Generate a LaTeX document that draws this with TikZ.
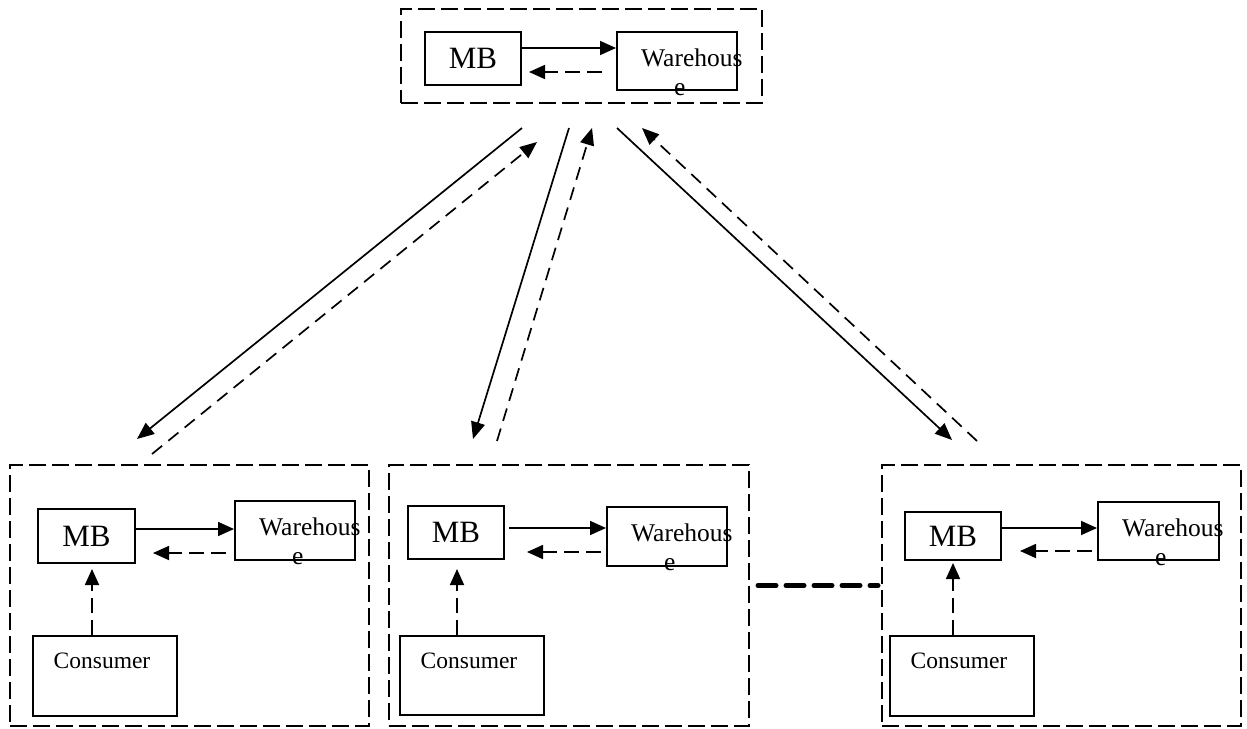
\documentclass[tikz,border=0pt]{standalone}
\usepackage{fontspec}
\setmainfont{Liberation Serif}
\usetikzlibrary{arrows.meta}
\begin{document}
\begin{tikzpicture}[x=1pt,y=-1pt,
  group/.style={draw, line width=2pt, dash pattern=on 17pt off 6pt, inner sep=0pt},
  mbbox/.style={draw, line width=2pt, inner sep=0pt, font=\fontsize{31}{37}\selectfont},
  whbox/.style={draw, line width=2pt, inner sep=0pt},
  whtext/.style={anchor=north west, inner sep=0pt, align=left, font=\fontsize{25.5}{29}\selectfont},
  cbox/.style={draw, line width=2pt, inner sep=0pt, minimum width=144pt, text height=32pt, font=\fontsize{23.5}{27}\selectfont},
  solidarr/.style={line width=1.7pt, -{Triangle[length=16pt,width=14pt]}},
  dasharr/.style={solidarr, dash pattern=on 15pt off 7pt},
  linkarr/.style={line width=1.7pt, -{Triangle[length=17pt,width=14pt]}},
  linkdash/.style={linkarr, dash pattern=on 13pt off 8pt},
  chain/.style={line width=5pt, line cap=round, dash pattern=on 18pt off 10pt}
]
\useasboundingbox (0,0) rectangle (1247,728);

% ---- central group ----
\node[group, minimum width=361pt, minimum height=94pt] (g0) at (581.5,56) {};
\node[mbbox, minimum width=96pt, minimum height=53pt] (mb0) at (473,58.5) {MB};
\node[whbox, minimum width=120pt, minimum height=58pt] (wh0) at (677,61) {};
\node[whtext] (wt0) at ([xshift=25pt,yshift=-18pt]wh0.north west) {Warehous\\\hspace*{33pt}e};
\draw[solidarr] (mb0.east |- 0,48) -- (wh0.west |- 0,48);
\draw[dasharr] ([xshift=-14pt]wh0.west |- 0,72) -- ([xshift=7pt]mb0.east |- 0,72);

% ---- left group ----
\node[group, minimum width=359pt, minimum height=261pt] (g1) at (189.5,595.5) {};
\node[mbbox, minimum width=97pt, minimum height=54pt] (mb1) at (86.5,536) {MB};
\node[whbox, minimum width=120pt, minimum height=59pt] (wh1) at (295,530.5) {};
\node[whtext] (wt1) at ([xshift=25pt,yshift=-18pt]wh1.north west) {Warehous\\\hspace*{33pt}e};
\node[cbox, text depth=48pt] (c1) at (105,676) {\hspace*{-6pt}Consumer};
\draw[solidarr] (mb1.east |- 0,529) -- (wh1.west |- 0,529);
\draw[dasharr] ([xshift=-8pt]wh1.west |- 0,553) -- ([xshift=17pt]mb1.east |- 0,553);
\draw[dasharr] (c1.north -| 92,0) -- ([yshift=-5pt]mb1.south -| 92,0);

% ---- middle group ----
\node[group, minimum width=360pt, minimum height=261pt] (g2) at (569,595.5) {};
\node[mbbox, minimum width=96pt, minimum height=53pt] (mb2) at (456,532.5) {MB};
\node[whbox, minimum width=120pt, minimum height=59pt] (wh2) at (667,536.5) {};
\node[whtext] (wt2) at ([xshift=25pt,yshift=-18pt]wh2.north west) {Warehous\\\hspace*{33pt}e};
\node[cbox, text depth=47pt] (c2) at (472,675.5) {\hspace*{-6pt}Consumer};
\draw[solidarr] ([xshift=4pt]mb2.east |- 0,528) -- (wh2.west |- 0,528);
\draw[dasharr] ([xshift=-5pt]wh2.west |- 0,552) -- ([xshift=22pt]mb2.east |- 0,552);
\draw[dasharr] (c2.north -| 457,0) -- ([yshift=-9pt]mb2.south -| 457,0);

% ---- right group ----
\node[group, minimum width=359pt, minimum height=261pt] (g3) at (1061.5,595.5) {};
\node[mbbox, minimum width=96pt, minimum height=48pt] (mb3) at (953,536) {MB};
\node[whbox, minimum width=121pt, minimum height=58pt] (wh3) at (1158.5,531) {};
\node[whtext] (wt3) at ([xshift=25pt,yshift=-18pt]wh3.north west) {Warehous\\\hspace*{33pt}e};
\node[cbox, text depth=48pt] (c3) at (962,676) {\hspace*{-6pt}Consumer};
\draw[solidarr] (mb3.east |- 0,528) -- (wh3.west |- 0,528);
\draw[dasharr] ([xshift=-5pt]wh3.west |- 0,551) -- ([xshift=18pt]mb3.east |- 0,551);
\draw[dasharr] (c3.north -| 953,0) -- ([yshift=-2pt]mb3.south -| 953,0);

% ---- links between the central group and the others ----
\coordinate (s1) at (522,128);  \coordinate (e1) at (137,439);
\coordinate (s1b) at (152,454); \coordinate (e1b) at (537,142);
\coordinate (s2) at (569,128);  \coordinate (e2) at (473,439);
\coordinate (s2b) at (497,441); \coordinate (e2b) at (592,128);
\coordinate (s3) at (617,128);  \coordinate (e3) at (952,440);
\coordinate (s3b) at (977,441); \coordinate (e3b) at (642,128);
\draw[linkarr] (s1) -- (e1);
\draw[linkdash] (s1b) -- (e1b);
\draw[linkarr] (s2) -- (e2);
\draw[linkdash] (s2b) -- (e2b);
\draw[linkarr] (s3) -- (e3);
\draw[linkdash] (s3b) -- (e3b);

% ---- more groups in between ----
\draw[chain, shorten <=8pt, shorten >=3pt] ([yshift=10pt]g2.east) -- ([yshift=10pt]g3.west);
\end{tikzpicture}
\end{document}
